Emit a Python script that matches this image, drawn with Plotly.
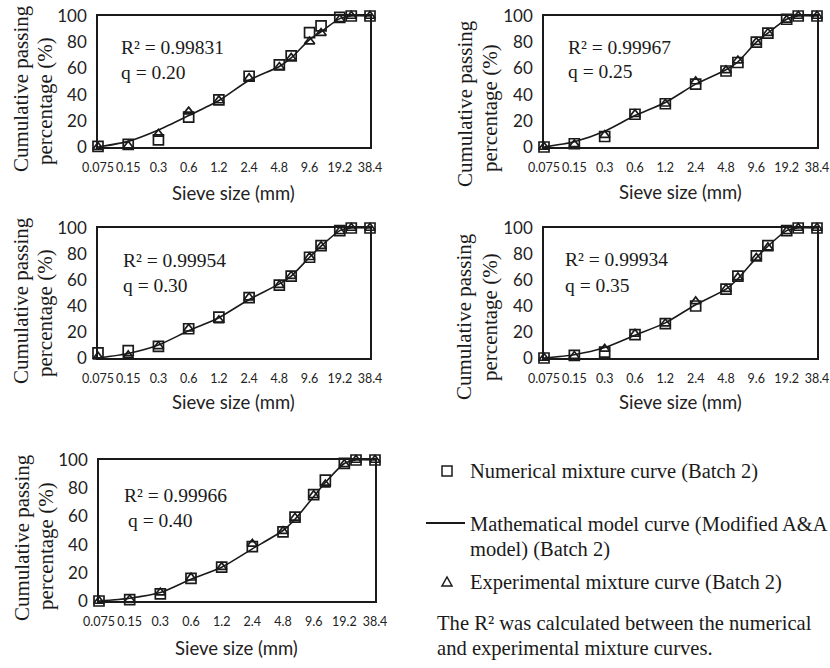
import math
import plotly.graph_objects as go

W, H = 830, 668

# ---------------- data ----------------
sieve = [0.075, 0.15, 0.3, 0.6, 1.2, 2.4, 4.8, 6.3, 9.6, 12.5, 19.2, 25, 38.4]
tick_vals = [0.075, 0.15, 0.3, 0.6, 1.2, 2.4, 4.8, 9.6, 19.2, 38.4]
tick_text = ["0.075", "0.15", "0.3", "0.6", "1.2", "2.4", "4.8", "9.6", "19.2", "38.4"]
y_ticks = [0, 20, 40, 60, 80, 100]

q_values = ["0.20", "0.25", "0.30", "0.35", "0.40"]
r2_values = ["0.99831", "0.99967", "0.99954", "0.99934", "0.99966"]

numerical_q020 = [0.5, 2, 5.5, 22.8, 36, 54, 62.7, 69.5, 87.3, 92.4, 99, 100, 100]
experimental_q020 = [0, 1, 10, 27, 35.5, 52.5, 61, 68, 80.5, 87, 97.5, 100, 100]
model_q020 = [0, 4.3, 13, 24, 35.5, 51, 61.5, 68, 82, 88, 98, 100, 100]

numerical_q025 = [0, 2.5, 8, 25, 33, 48, 58, 64.5, 80, 87, 97.5, 100, 100]
experimental_q025 = [0, 2, 9, 25, 33, 50, 58.5, 66, 80, 87, 97, 100, 100]
model_q025 = [0, 4, 12, 24, 34, 48, 59, 65, 80, 87, 97.5, 100, 100]

numerical_q030 = [4, 5.7, 9, 22.5, 31.5, 46.5, 56, 63, 77.5, 86.5, 98, 100, 100]
experimental_q030 = [1, 2, 9, 22.5, 29, 46.5, 56, 63, 77.5, 86, 97.5, 100, 100]
model_q030 = [0, 3.5, 10, 21, 31, 45, 57, 63, 77.5, 86, 98, 100, 100]

numerical_q035 = [0, 2, 4.5, 18, 26.5, 40, 53, 63, 78.5, 86.5, 98, 100, 100]
experimental_q035 = [0, 1.5, 7, 18.5, 26.5, 43.5, 53, 62, 77, 85, 97.5, 100, 100]
model_q035 = [0, 2.5, 8, 17.5, 27, 41, 53, 61, 77, 86, 98, 100, 100]

numerical_q040 = [0, 1, 5, 16, 24, 38.5, 49, 59.5, 75.5, 85.7, 97.6, 100, 100]
experimental_q040 = [0, 1, 6, 16.5, 24, 40.5, 49.5, 59, 75, 82.6, 97, 100, 100]
model_q040 = [0, 2, 6, 15.5, 24, 37, 50, 58, 74, 84, 97.5, 100, 100]

numerical = [numerical_q020, numerical_q025, numerical_q030, numerical_q035, numerical_q040]
experimental = [experimental_q020, experimental_q025, experimental_q030, experimental_q035, experimental_q040]
model = [model_q020, model_q025, model_q030, model_q035, model_q040]

# ---------------- layout geometry (px) ----------------
panels = [  # left, right, top, bottom
    (98, 370, 16, 147),
    (544, 817, 16, 147),
    (98, 370, 228, 358),
    (544, 817, 228, 358),
    (99, 375, 460, 601),
]
# y-title line centers: (x1, y1, x2, y2)
ytitle_pos = [
    (21, 89, 45, 101),
    (465, 104, 490, 108),
    (21, 301, 45, 313),
    (464, 317, 490, 317),
    (22, 538, 46, 546),
]
# R2 / q text: (x_left_r2, y_r2, x_left_q, y_q)
rq_pos = [
    (119, 47, 119, 73),
    (566, 47, 566, 72),
    (121, 260, 121, 285),
    (563, 259, 563, 285),
    (122, 495, 126, 520),
]
xtitle_pos = [(233, 193), (680, 192), (233, 402), (680, 402), (236, 648)]


def px(x):
    return x / W


def py(y):
    return 1 - y / H


SERIF = "Liberation Serif, Times New Roman, serif"
SANS = "Lato, Carlito, Calibri, sans-serif"
INK = "#1a1a1a"

fig = go.Figure()
annotations = []
layout_axes = {}

for i in range(5):
    l, r, t, b = panels[i]
    xa = "x" if i == 0 else f"x{i+1}"
    ya = "y" if i == 0 else f"y{i+1}"
    xkey = "xaxis" if i == 0 else f"xaxis{i+1}"
    ykey = "yaxis" if i == 0 else f"yaxis{i+1}"

    fig.add_trace(go.Scatter(
        x=sieve, y=model[i], mode="lines", xaxis=xa, yaxis=ya,
        line=dict(color=INK, width=1.6, shape="spline", smoothing=0.7),
        cliponaxis=False, showlegend=False))
    fig.add_trace(go.Scatter(
        x=sieve, y=numerical[i], mode="markers", xaxis=xa, yaxis=ya,
        marker=dict(symbol="square-open", size=10, color=INK, line=dict(width=1.7, color=INK)),
        cliponaxis=False, showlegend=False))
    fig.add_trace(go.Scatter(
        x=sieve, y=experimental[i], mode="markers", xaxis=xa, yaxis=ya,
        marker=dict(symbol="triangle-up-open", size=9, color=INK, line=dict(width=1.7, color=INK)),
        cliponaxis=False, showlegend=False))

    layout_axes[xkey] = dict(
        domain=[px(l), px(r)], anchor=ya, type="log", automargin=False,
        range=[math.log10(0.075), math.log10(38.4)],
        tickvals=tick_vals, ticktext=tick_text, ticks="", tickangle=0,
        showline=True, mirror=True, linecolor=INK, linewidth=1.5,
        showgrid=False, zeroline=False,
        tickfont=dict(family=SANS, size=12.5, color="#222"),
        ticklabelstandoff=8,
    )
    layout_axes[ykey] = dict(
        domain=[py(b), py(t)], anchor=xa, range=[0, 100], automargin=False,
        tickvals=y_ticks, ticks="",
        showline=True, mirror=True, linecolor=INK, linewidth=1.5,
        showgrid=False, zeroline=False,
        tickfont=dict(family=SANS, size=17, color="#222"),
        ticklabelstandoff=6,
    )

    x1, y1, x2, y2 = ytitle_pos[i]
    annotations.append(dict(x=px(x1), y=py(y1), xref="paper", yref="paper",
                            text="Cumulative passing", textangle=-90, showarrow=False,
                            xanchor="center", yanchor="middle",
                            font=dict(family=SERIF, size=21, color=INK)))
    annotations.append(dict(x=px(x2), y=py(y2), xref="paper", yref="paper",
                            text="percentage (%)", textangle=-90, showarrow=False,
                            xanchor="center", yanchor="middle",
                            font=dict(family=SERIF, size=21, color=INK)))

    rx, ry, qx, qy = rq_pos[i]
    annotations.append(dict(x=px(rx), y=py(ry), xref="paper", yref="paper",
                            text=f"R² = {r2_values[i]}", showarrow=False,
                            xanchor="left", yanchor="middle",
                            font=dict(family=SERIF, size=19.5, color=INK)))
    annotations.append(dict(x=px(qx), y=py(qy), xref="paper", yref="paper",
                            text=f"q = {q_values[i]}", showarrow=False,
                            xanchor="left", yanchor="middle",
                            font=dict(family=SERIF, size=19.5, color=INK)))

    tx, ty = xtitle_pos[i]
    annotations.append(dict(x=px(tx), y=py(ty), xref="paper", yref="paper",
                            text="Sieve size (mm)", showarrow=False,
                            xanchor="center", yanchor="middle",
                            font=dict(family=SANS, size=18.5, color="#222")))

# ---------------- legend (drawn manually) ----------------
legend_texts = [
    ("Numerical mixture curve (Batch 2)", 468, 471),
    ("Mathematical model curve (Modified A&A", 468, 524),
    ("model) (Batch 2)", 468, 549),
    ("Experimental mixture curve (Batch 2)", 468, 582),
]
for txt, x, y in legend_texts:
    annotations.append(dict(x=px(x), y=py(y), xref="paper", yref="paper", text=txt,
                            showarrow=False, xanchor="left", yanchor="middle",
                            font=dict(family=SERIF, size=20.5, color=INK)))

note_texts = [
    ("The R² was calculated between the numerical", 435, 623),
    ("and experimental mixture curves.", 435, 648),
]
for txt, x, y in note_texts:
    annotations.append(dict(x=px(x), y=py(y), xref="paper", yref="paper", text=txt,
                            showarrow=False, xanchor="left", yanchor="middle",
                            font=dict(family=SERIF, size=20.6, color=INK)))

shapes = [
    dict(type="rect", xref="paper", yref="paper",
         x0=px(442), x1=px(452), y0=py(476), y1=py(466),
         line=dict(color=INK, width=1.5)),
    dict(type="line", xref="paper", yref="paper",
         x0=px(426), x1=px(465), y0=py(523), y1=py(523),
         line=dict(color=INK, width=2)),
    dict(type="path", xref="paper", yref="paper",
         path=f"M {px(442)},{py(586)} L {px(452)},{py(586)} L {px(447)},{py(577)} Z",
         line=dict(color=INK, width=1.5)),
]

fig.update_layout(
    width=W, height=H,
    margin=dict(l=0, r=0, t=0, b=0, autoexpand=False),
    paper_bgcolor="white", plot_bgcolor="white",
    showlegend=False,
    annotations=annotations,
    shapes=shapes,
    **layout_axes,
)

fig.write_html("out.html")
